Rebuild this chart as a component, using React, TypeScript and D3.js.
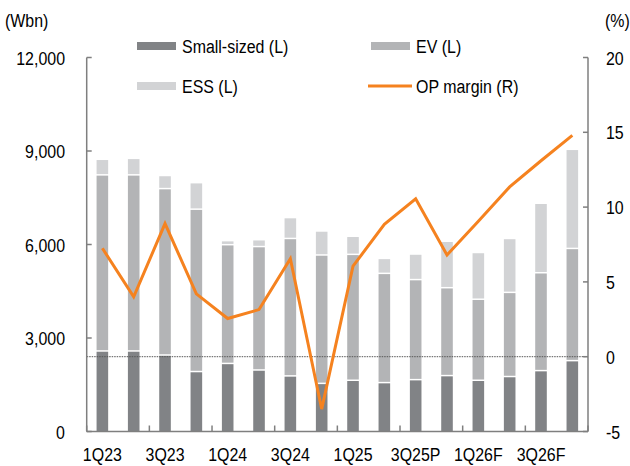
import React from "react";
import * as d3 from "d3";

const categories = ["1Q23", "2Q23", "3Q23", "4Q23", "1Q24", "2Q24", "3Q24", "4Q24", "1Q25", "2Q25", "3Q25P", "4Q25F", "1Q26F", "2Q26F", "3Q26F", "4Q26F"];
const smallSized = [2560, 2560, 2430, 1900, 2160, 1950, 1760, 1520, 1620, 1545, 1640, 1770, 1620, 1740, 1930, 2250];
const ev = [5650, 5650, 5340, 5210, 3810, 3960, 4410, 4120, 4040, 3505, 3210, 2820, 2600, 2700, 3140, 3600];
const ess = [500, 530, 420, 850, 130, 220, 670, 770, 580, 480, 820, 1490, 1500, 1730, 2230, 3180];
const opMargin = [7.25, 4.0, 8.9, 4.2, 2.55, 3.15, 6.55, -3.5, 6.05, 8.85, 10.55, 6.8, 9.05, 11.35, 13.1, 14.8];
const leftTicks = [0, 3000, 6000, 9000, 12000];
const rightTicks = [-5, 0, 5, 10, 15, 20];
const xLabels = ["1Q23", "3Q23", "1Q24", "3Q24", "1Q25", "3Q25P", "1Q26F", "3Q26F"];

const W = 630;
const H = 466;
const margin = { left: 86.7, right: 42, top: 57.5, bottom: 34.5 };

const colors = { small: "#818386", ev: "#b3b4b6", ess: "#d2d3d5", op: "#f5821f", axis: "#7f7f7f" };
const font = "Liberation Sans, Arial, sans-serif";
const SX = 0.84; // text is rendered narrower than normal Arial

const Label = ({ x, y, anchor = "start", children }: any) => (
  <text
    transform={`translate(${x},${y}) scale(${SX},1)`}
    textAnchor={anchor}
    fontFamily={font}
    fontSize={19}
    fill="#000"
  >
    {children}
  </text>
);

export default function App() {
  const x0 = margin.left;
  const x1 = W - margin.right;
  const yTop = margin.top;
  const yBot = H - margin.bottom;

  const x = d3.scaleBand().domain(categories).range([x0, x1]).paddingInner(0.63).paddingOuter(0.315);
  const yL = d3.scaleLinear().domain([0, 12000]).range([yBot, yTop]);
  const yR = d3.scaleLinear().domain([-5, 20]).range([yBot, yTop]);

  const stacked = d3.stack<any>().keys(["small", "ev", "ess"])(
    categories.map((c, i) => ({ cat: c, small: smallSized[i], ev: ev[i], ess: ess[i] }))
  );
  const fills: any = { small: colors.small, ev: colors.ev, ess: colors.ess };

  const line = d3
    .line<number>()
    .x((_, i) => (x(categories[i]) as number) + x.bandwidth() / 2)
    .y((d) => yR(d));

  const step = x.step();
  const boundaries = d3.range(0, categories.length + 1, 2).map((k) => x0 + k * step);
  const gap = 1.5;

  return (
    <svg width={W} height={H} style={{ position: "absolute", left: 0, top: 0, background: "#fff" }}>
      {/* bars */}
      {stacked.map((layer, li) =>
        layer.map((d, i) => {
          const top = yL(d[1]);
          const bottom = yL(d[0]) - (li > 0 ? gap : 0);
          return (
            <rect
              key={`${layer.key}-${i}`}
              x={x(categories[i])}
              y={top}
              width={x.bandwidth()}
              height={Math.max(0, bottom - top)}
              fill={fills[layer.key]}
            />
          );
        })
      )}

      {/* zero line for right axis */}
      <line x1={x0} x2={x1} y1={yR(0)} y2={yR(0)} stroke="#555" strokeWidth={1} strokeDasharray="1.5,1" />

      {/* OP margin */}
      <path d={line(opMargin) || ""} fill="none" stroke={colors.op} strokeWidth={3} strokeLinejoin="miter" />

      {/* axes */}
      <line x1={x0} x2={x0} y1={yTop} y2={yBot} stroke={colors.axis} strokeWidth={1.5} />
      <line x1={x1} x2={x1} y1={yTop} y2={yBot} stroke={colors.axis} strokeWidth={1.5} />
      <line x1={x0} x2={x1} y1={yBot} y2={yBot} stroke={colors.axis} strokeWidth={1.5} />
      {leftTicks.map((t) => (
        <g key={`l${t}`}>
          <line x1={x0} x2={x0 + 5} y1={yL(t)} y2={yL(t)} stroke={colors.axis} strokeWidth={1.5} />
          <Label x={65} y={yL(t) + 7} anchor="end">
            {d3.format(",")(t)}
          </Label>
        </g>
      ))}
      {rightTicks.map((t) => (
        <g key={`r${t}`}>
          <line x1={x1 - 5} x2={x1} y1={yR(t)} y2={yR(t)} stroke={colors.axis} strokeWidth={1.5} />
          <Label x={606} y={yR(t) + 7}>
            {t}
          </Label>
        </g>
      ))}
      {boundaries.map((bx, i) => (
        <line key={`b${i}`} x1={bx} x2={bx} y1={yBot} y2={yBot - 6} stroke={colors.axis} strokeWidth={1.5} />
      ))}
      {xLabels.map((l, i) => (
        <Label key={l} x={(x(categories[i * 2]) as number) + x.bandwidth() / 2} y={461} anchor="middle">
          {l}
        </Label>
      ))}

      <Label x={5} y={27}>(Wbn)</Label>
      <Label x={605} y={27}>(%)</Label>

      {/* legend */}
      <rect x={137} y={42} width={39} height={8} fill={colors.small} />
      <Label x={182} y={53}>Small-sized (L)</Label>
      <rect x={137} y={82} width={39} height={8} fill={colors.ess} />
      <Label x={182} y={93}>ESS (L)</Label>
      <rect x={371} y={42} width={39} height={8} fill={colors.ev} />
      <Label x={416} y={53}>EV (L)</Label>
      <line x1={368} x2={412} y1={86} y2={86} stroke={colors.op} strokeWidth={3} />
      <Label x={416} y={93}>OP margin (R)</Label>
    </svg>
  );
}
